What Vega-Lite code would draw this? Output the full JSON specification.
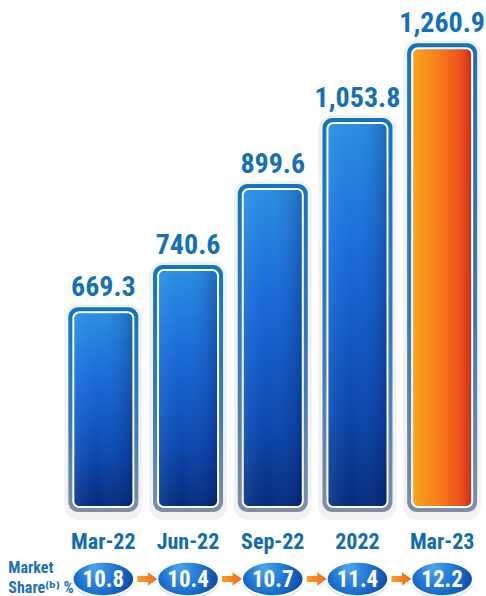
{
  "$schema": "https://vega.github.io/schema/vega-lite/v6.json",
  "padding": {"left": 8, "top": 0, "right": 0, "bottom": 0},
  "autosize": {"type": "pad"},
  "background": "white",
  "config": {
    "view": {"stroke": null},
    "concat": {"spacing": 0},
    "font": "Liberation Sans Narrow, Roboto Condensed, DejaVu Sans Condensed, sans-serif"
  },
  "data": {
    "values": [
      {"period": "Mar-22", "value": 669.3, "label": "669.3", "share": 10.8, "kind": "past"},
      {"period": "Jun-22", "value": 740.6, "label": "740.6", "share": 10.4, "kind": "past"},
      {"period": "Sep-22", "value": 899.6, "label": "899.6", "share": 10.7, "kind": "past"},
      {"period": "2022", "value": 1053.8, "label": "1,053.8", "share": 11.4, "kind": "past"},
      {"period": "Mar-23", "value": 1260.9, "label": "1,260.9", "share": 12.2, "kind": "current"}
    ]
  },
  "vconcat": [
    {
      "width": 423.5,
      "height": 512,
      "encoding": {
        "x": {
          "field": "period", "type": "nominal", "sort": null,
          "scale": {"paddingInner": 0, "paddingOuter": 0},
          "axis": {
            "title": null, "domain": false, "ticks": false, "labelAngle": 0,
            "labelFontSize": 22, "labelFontWeight": "bold", "labelColor": "#0f6cb3",
            "labelPadding": 19
          }
        },
        "y": {
          "field": "value", "type": "quantitative",
          "scale": {"type": "log", "domain": [409.4, 1399], "zero": false, "nice": false},
          "axis": null
        },
        "y2": {"datum": 409.4}
      },
      "layer": [
        {
          "mark": {"type": "bar", "size": 78, "cornerRadius": 14, "color": "#9a9a9a", "opacity": 0.14, "yOffset": -3, "y2Offset": 8}
        },
        {
          "mark": {
            "type": "bar", "size": 70, "cornerRadius": 10,
            "color": {"gradient": "linear", "x1": 0, "y1": 0, "x2": 0, "y2": 1,
              "stops": [{"offset": 0, "color": "#1275bf"}, {"offset": 0.6, "color": "#3a7cb8"}, {"offset": 1, "color": "#808ea6"}]}
          }
        },
        {
          "mark": {"type": "bar", "size": 62, "cornerRadius": 7, "color": "#ffffff", "yOffset": 4, "y2Offset": -4}
        },
        {
          "transform": [{"filter": "datum.kind === 'past'"}],
          "mark": {
            "type": "bar", "size": 58, "cornerRadius": 5, "yOffset": 6, "y2Offset": -6,
            "color": {"gradient": "linear", "x1": 0, "y1": 0, "x2": 0, "y2": 1,
              "stops": [{"offset": 0, "color": "#2a8fe2"}, {"offset": 0.35, "color": "#1a6ad6"}, {"offset": 0.75, "color": "#0c47ad"}, {"offset": 1, "color": "#062a78"}]}
          }
        },
        {
          "transform": [{"filter": "datum.kind === 'past'"}],
          "mark": {
            "type": "bar", "size": 58, "cornerRadius": 5, "yOffset": 6, "y2Offset": -6,
            "color": {"gradient": "linear", "x1": 0, "y1": 0, "x2": 1, "y2": 0,
              "stops": [{"offset": 0, "color": "rgba(120,200,255,0.15)"}, {"offset": 0.4, "color": "rgba(60,140,230,0.0)"}, {"offset": 1, "color": "rgba(0,20,90,0.3)"}]}
          }
        },
        {
          "transform": [{"filter": "datum.kind === 'current'"}],
          "mark": {
            "type": "bar", "size": 58, "cornerRadius": 5, "yOffset": 6, "y2Offset": -6,
            "color": {"gradient": "linear", "x1": 0, "y1": 0, "x2": 1, "y2": 0,
              "stops": [{"offset": 0, "color": "#f9a41c"}, {"offset": 0.45, "color": "#f67c1d"}, {"offset": 0.85, "color": "#ec4c1a"}, {"offset": 1, "color": "#c2321b"}]}
          }
        },
        {
          "mark": {"type": "text", "baseline": "alphabetic", "dy": -11, "fontSize": 28, "fontWeight": "bold", "color": "#1470b8"},
          "encoding": {"text": {"field": "label"}, "y2": null}
        }
      ]
    },
    {
      "width": 423.5,
      "height": 54,
      "encoding": {
        "x": {
          "field": "period", "type": "nominal", "sort": null,
          "scale": {"paddingInner": 0, "paddingOuter": 0},
          "axis": null
        }
      },
      "layer": [
        {
          "mark": {
            "type": "point", "shape": "M-1,0 A1,0.56 0 1,1 1,0 A1,0.56 0 1,1 -1,0 Z",
            "size": 4000, "filled": true, "opacity": 0.25, "fill": "#5a6a80", "yOffset": 1.5
          }
        },
        {
          "mark": {
            "type": "point", "shape": "M-1,0 A1,0.56 0 1,1 1,0 A1,0.56 0 1,1 -1,0 Z",
            "size": 3800, "filled": true, "opacity": 1,
            "fill": {"gradient": "radial", "x1": 0.35, "y1": 0.3, "r1": 0, "x2": 0.45, "y2": 0.45, "r2": 0.7,
              "stops": [{"offset": 0, "color": "#4aa6ee"}, {"offset": 0.5, "color": "#1a6fd0"}, {"offset": 1, "color": "#07348f"}]},
            "stroke": "#ffffff", "strokeWidth": 2
          }
        },
        {
          "mark": {"type": "text", "fontSize": 23, "fontWeight": "bold", "color": "#ffffff", "baseline": "middle", "dy": 1},
          "encoding": {"text": {"field": "share", "format": ".1f"}}
        },
        {
          "transform": [{"filter": "datum.kind === 'past'"}],
          "mark": {
            "type": "point", "shape": "M-1,-0.3 L0.05,-0.3 L0.05,-0.68 L1,0 L0.05,0.68 L0.05,0.3 L-1,0.3 Z",
            "size": 400, "filled": true, "opacity": 1, "xOffset": 44,
            "fill": {"gradient": "linear", "x1": 0, "y1": 0, "x2": 1, "y2": 0,
              "stops": [{"offset": 0, "color": "#f9a01e"}, {"offset": 1, "color": "#f06a22"}]}
          }
        },
        {
          "data": {"values": [{"anchor": "Mar-22"}]},
          "mark": {"type": "text", "text": ["Market", "Share⁽ᵇ⁾ %"], "align": "left", "baseline": "middle", "dx": -95, "dy": -11, "fontSize": 16, "lineHeight": 20, "fontWeight": "bold", "color": "#1a6fc0"},
          "encoding": {"x": {"field": "anchor", "type": "nominal"}}
        }
      ]
    }
  ]
}
